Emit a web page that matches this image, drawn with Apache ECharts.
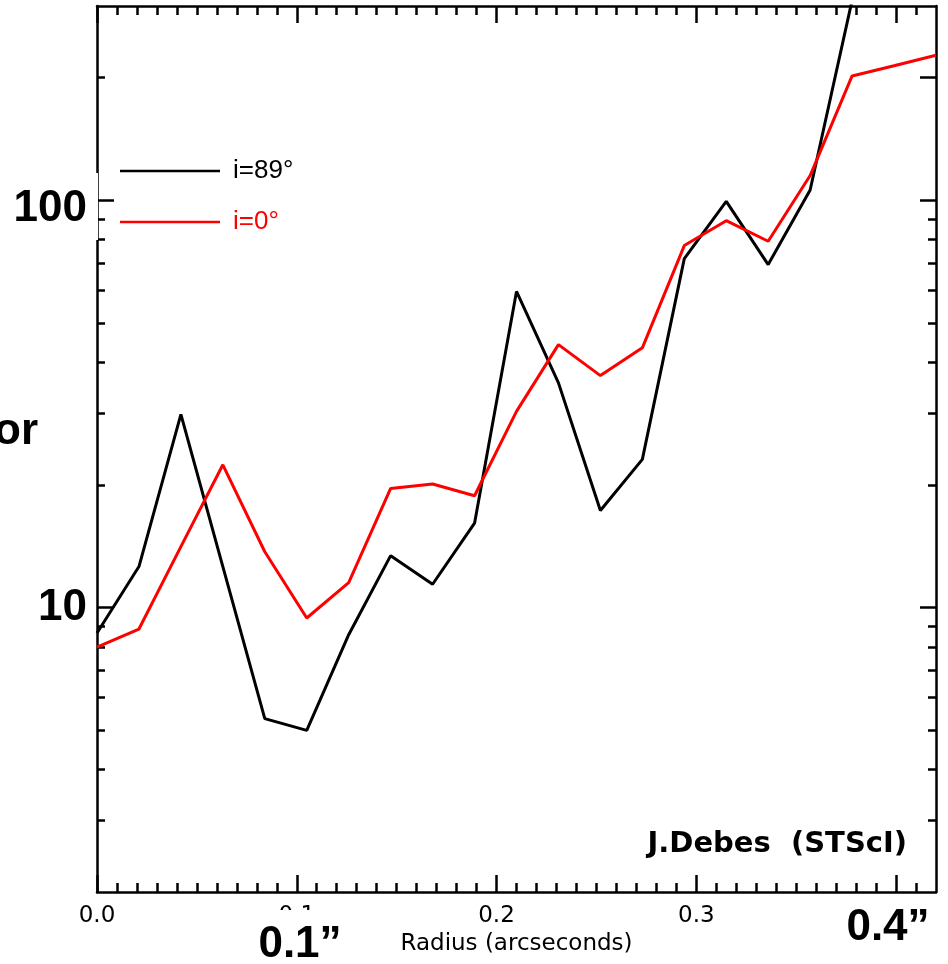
<!DOCTYPE html>
<html>
<head>
<meta charset="utf-8">
<script src="https://cdn.jsdelivr.net/npm/echarts@6/dist/echarts.min.js"></script>
<style>
  html, body { margin: 0; padding: 0; background: #fff; }
  #chart { width: 948px; height: 964px; }
</style>
</head>
<body>
<div id="chart"></div>
<script>
// Radial profile sampled every 0.021 arcsec
const radius = [0.000, 0.021, 0.042, 0.063, 0.084, 0.105, 0.126, 0.147, 0.168, 0.189,
                0.210, 0.231, 0.252, 0.273, 0.294, 0.315, 0.336, 0.357, 0.378, 0.399, 0.420];

// Edge-on disk (i = 89 deg); the curve leaves the plot after 0.378"
const incl89 = [8.65, 12.6, 29.8, 12.6, 5.33, 4.99, 8.57, 13.4, 11.4, 16.1,
                59.7, 35.6, 17.3, 23.1, 71.9, 99.4, 69.5, 106, 310];

// Face-on disk (i = 0 deg)
const incl0 = [7.99, 8.85, 14.1, 22.4, 13.7, 9.42, 11.5, 19.6, 20.1, 18.8,
               30.3, 44.2, 37.1, 43.4, 77.4, 89.1, 79.3, 115, 202, 214, 227];

const seriesNames = ['i=89°', 'i=0°'];

// Axis tick positions
const xMajor = [0.0, 0.1, 0.2, 0.3, 0.4];
const xMinor = [0.01, 0.02, 0.03, 0.04, 0.05, 0.06, 0.07, 0.08, 0.09,
                0.11, 0.12, 0.13, 0.14, 0.15, 0.16, 0.17, 0.18, 0.19,
                0.21, 0.22, 0.23, 0.24, 0.25, 0.26, 0.27, 0.28, 0.29,
                0.31, 0.32, 0.33, 0.34, 0.35, 0.36, 0.37, 0.38, 0.39, 0.41];
const yMajor = [10, 100];
const yMinor = [3, 4, 5, 6, 7, 8, 9, 20, 30, 40, 50, 60, 70, 80, 90, 200];
const yMajorRight = [10, 100, 200];
const yMinorRight = [3, 4, 5, 6, 7, 8, 9, 20, 30, 40, 50, 60, 70, 80, 90];

const X_MIN = 0, X_MAX = 0.42, Y_MIN = 2, Y_MAX = 300;

const smallFont = 'DejaVu Sans';
const bigFont = 'Liberation Sans';
const FRAME_W = 2.5;

function xAxisDef(pos, ticks, len, showLine, showLabel) {
  return {
    type: 'value', position: pos, min: X_MIN, max: X_MAX, gridIndex: 0,
    axisLine: { show: showLine, onZero: false, lineStyle: { color: '#000', width: FRAME_W } },
    axisTick: { show: true, inside: true, length: len, customValues: ticks,
                lineStyle: { color: '#000', width: FRAME_W } },
    axisLabel: showLabel ? {
      show: true, customValues: xMajor, margin: 13,
      color: '#000', fontFamily: smallFont, fontSize: 23,
      formatter: v => v.toFixed(1)
    } : { show: false },
    splitLine: { show: false },
    name: showLabel ? 'Radius (arcseconds)' : '',
    nameLocation: 'middle', nameGap: 40,
    nameTextStyle: { color: '#000', fontFamily: smallFont, fontSize: 23 }
  };
}

const bigLabel = { fontFamily: bigFont, fontSize: 44, fontWeight: 'bold', color: '#000' };

function yAxisDef(pos, ticks, len, showLine, showLabel) {
  return {
    type: 'log', logBase: 10, position: pos, min: Y_MIN, max: Y_MAX, gridIndex: 0,
    axisLine: { show: showLine, onZero: false, lineStyle: { color: '#000', width: FRAME_W } },
    axisTick: { show: true, inside: true, length: len, customValues: ticks,
                lineStyle: { color: '#000', width: FRAME_W } },
    axisLabel: showLabel ? {
      show: true, customValues: yMajor, margin: 10,
      color: '#000', fontFamily: bigFont, fontSize: 44, fontWeight: 'bold',
      formatter: v => (Math.round(v) === 100 ? '{low|100}' : '{n|' + Math.round(v) + '}'),
      rich: {
        n: Object.assign({}, bigLabel),
        low: Object.assign({ padding: [17, 0, 0, 0] }, bigLabel)
      }
    } : { show: false },
    splitLine: { show: false }
  };
}

const chart = echarts.init(document.getElementById('chart'), null, { renderer: 'canvas' });

chart.setOption({
  backgroundColor: '#fff',
  animation: false,
  grid: { left: 97, right: 12, top: 6, bottom: 72, containLabel: false },
  xAxis: [
    xAxisDef('bottom', xMajor, 17, true, true),
    xAxisDef('bottom', xMinor, 9, false, false),
    xAxisDef('top', xMajor, 17, true, false),
    xAxisDef('top', xMinor, 9, false, false)
  ],
  yAxis: [
    yAxisDef('left', yMajor, 17, true, true),
    yAxisDef('left', yMinor, 8, false, false),
    yAxisDef('right', yMajorRight, 16, true, false),
    yAxisDef('right', yMinorRight, 8, false, false)
  ],
  legend: {
    show: true, orient: 'vertical', left: 115, top: 153,
    icon: 'rect', itemWidth: 100, itemHeight: 2.5, itemGap: 25,
    selectedMode: false,
    data: [
      { name: seriesNames[0], textStyle: { color: '#000' } },
      { name: seriesNames[1], textStyle: { color: '#ff0000' } }
    ],
    textStyle: { fontFamily: bigFont, fontSize: 26, lineHeight: 26, padding: [0, 0, 0, 8] }
  },
  series: [
    {
      name: seriesNames[0], type: 'line', xAxisIndex: 0, yAxisIndex: 0,
      data: incl89.map((v, i) => [radius[i], v]),
      symbol: 'none', clip: true,
      lineStyle: { color: '#000', width: 3 }, itemStyle: { color: '#000' }
    },
    {
      name: seriesNames[1], type: 'line', xAxisIndex: 0, yAxisIndex: 0,
      data: incl0.map((v, i) => [radius[i], v]),
      symbol: 'none', clip: true,
      lineStyle: { color: '#ff0000', width: 3 }, itemStyle: { color: '#ff0000' }
    }
  ],
  graphic: [
    // gap in the left frame beside the 100 label
    { type: 'rect', z: 100, shape: { x: 90, y: 173, width: 8, height: 67 },
      style: { fill: '#fff' } },
    { type: 'text', z: 100, style: {
        text: 'or', x: 38, y: 432, align: 'right', verticalAlign: 'middle',
        font: 'bold 44px "Liberation Sans"', fill: '#000' } },
    { type: 'text', z: 100, style: {
        text: '0.1\u201D', x: 300, y: 945, align: 'center', verticalAlign: 'middle',
        font: 'bold 44px "Liberation Sans"', fill: '#000',
        backgroundColor: '#fff', padding: [22, 10, 4, 10] } },
    { type: 'text', z: 100, style: {
        text: '0.4\u201D', x: 888, y: 928, align: 'center', verticalAlign: 'middle',
        font: 'bold 44px "Liberation Sans"', fill: '#000',
        backgroundColor: '#fff', padding: [8, 10, 4, 10] } },
    { type: 'text', z: 100, style: {
        text: 'J.Debes  (STScI)', x: 907, y: 844, align: 'right', verticalAlign: 'middle',
        font: 'bold 29px "DejaVu Sans"', fill: '#000' } }
  ]
});
</script>
</body>
</html>
